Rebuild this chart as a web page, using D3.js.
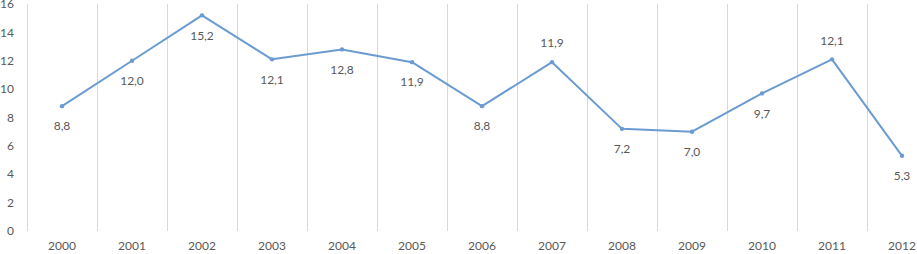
<!DOCTYPE html>
<html><head><meta charset="utf-8">
<script src="https://cdn.jsdelivr.net/npm/d3@7"></script>
<style>body{margin:0;background:#fff}svg{display:block}text{font-family:Lato,"Open Sans",sans-serif;fill:#595959}</style>
</head><body><svg id="c" width="917" height="254"></svg>
<script>
const years=["2000","2001","2002","2003","2004","2005","2006","2007","2008","2009","2010","2011","2012"];
const values=[8.8,12.0,15.2,12.1,12.8,11.9,8.8,11.9,7.2,7.0,9.7,12.1,5.3];
const labelAbove=[false,false,false,false,false,false,false,true,false,false,false,true,false];
const yTicks=[0,2,4,6,8,10,12,14,16];

const svg=d3.select("#c");
const x=d3.scaleBand().domain(years).range([27,937]);
const y=d3.scaleLinear().domain([0,16]).range([231,4]);

// vertical gridlines
svg.append("g").selectAll("line").data(years).join("line")
 .attr("x1",d=>x(d)).attr("x2",d=>x(d)).attr("y1",y(16)).attr("y2",y(0))
 .attr("stroke","#d9d9d9").attr("stroke-width",1).attr("shape-rendering","crispEdges");

// y axis labels
svg.append("g").selectAll("text").data(yTicks).join("text")
 .attr("x",14).attr("y",d=>y(d)).attr("dy","0.35em").attr("text-anchor","end")
 .attr("font-size",12).text(d=>d);

// x labels
svg.append("g").selectAll("text").data(years).join("text")
 .attr("x",d=>x(d)+x.bandwidth()/2).attr("y",246).attr("dy","0.35em").attr("text-anchor","middle")
 .attr("font-size",12).text(d=>d);

const pts=years.map((d,i)=>({yr:d,v:values[i],above:labelAbove[i]}));
const line=d3.line().x(d=>x(d.yr)+x.bandwidth()/2).y(d=>y(d.v));
svg.append("path").datum(pts).attr("d",line).attr("fill","none")
 .attr("stroke","#6b9bd1").attr("stroke-width",2).attr("stroke-linejoin","round");

svg.append("g").selectAll("circle").data(pts).join("circle")
 .attr("cx",d=>x(d.yr)+x.bandwidth()/2).attr("cy",d=>y(d.v)).attr("r",2.2).attr("fill","#6b9bd1");

const fmt=v=>v.toFixed(1).replace(".",",");
svg.append("g").selectAll("text").data(pts).join("text")
 .attr("x",d=>x(d.yr)+x.bandwidth()/2).attr("y",d=>y(d.v)+(d.above?-19:20))
 .attr("dy","0.35em").attr("text-anchor","middle").attr("font-size",12).text(d=>fmt(d.v));
</script></body></html>
